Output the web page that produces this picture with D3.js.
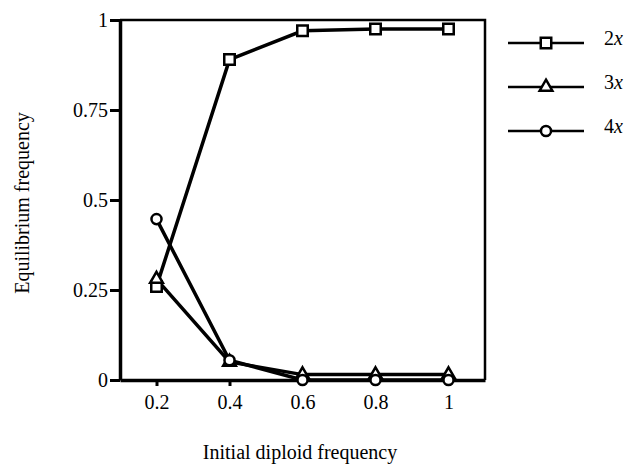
<!DOCTYPE html>
<html>
<head>
<meta charset="utf-8">
<script src="https://d3js.org/d3.v7.min.js"></script>
<style>
  body { margin: 0; background: #fff; }
  text { font-family: "Liberation Serif", "DejaVu Serif", serif; fill: #000; }
</style>
</head>
<body>
<div id="chart"></div>
<script>
var xValues = [0.2, 0.4, 0.6, 0.8, 1];
var diploid = [0.26, 0.89, 0.97, 0.975, 0.975];   // 2x
var triploid = [0.28, 0.05, 0.015, 0.015, 0.015]; // 3x
var tetraploid = [0.447, 0.055, 0, 0, 0];         // 4x
var seriesNames = ["2x", "3x", "4x"];
var yTicks = [0, 0.25, 0.5, 0.75, 1];

var width = 629, height = 468;
var margin = { top: 20, right: 144, bottom: 88, left: 120 };

var svg = d3.select("#chart").append("svg")
  .attr("width", width)
  .attr("height", height);

var x = d3.scaleLinear()
  .domain([0.1, 1.1])
  .range([margin.left, width - margin.right]);

var y = d3.scaleLinear()
  .domain([0, 1])
  .range([height - margin.bottom, margin.top]);

// frame (top + right thinner)
svg.append("path")
  .attr("d", "M" + x(0.1) + "," + y(1) + "H" + x(1.1) + "V" + y(0))
  .attr("fill", "none")
  .attr("stroke", "#000")
  .attr("stroke-width", 2.5);

var xAxis = svg.append("g")
  .attr("transform", "translate(0," + y(0) + ")")
  .call(d3.axisBottom(x).tickValues(xValues).tickSize(6).tickSizeOuter(0)
    .tickFormat(function(d){ return d === 1 ? "1" : d3.format(".1f")(d); }));

var yAxis = svg.append("g")
  .attr("transform", "translate(" + x(0.1) + ",0)")
  .call(d3.axisLeft(y).tickValues(yTicks).tickSize(10).tickSizeOuter(0)
    .tickFormat(function(d){ return d === 0 ? "0" : d === 1 ? "1" : String(d); }));

[xAxis, yAxis].forEach(function(g){
  g.select(".domain").attr("stroke-width", 3.5);
  g.selectAll(".tick line").attr("stroke-width", 3);
  g.selectAll(".tick text").style("font-size", "20px")
    .style("font-family", "'Liberation Serif', serif").attr("fill", "#000");
});
xAxis.selectAll(".tick text").attr("dy", "1.0em");
yAxis.selectAll(".tick text").attr("x", -12);

var line = d3.line()
  .x(function(d, i){ return x(xValues[i]); })
  .y(function(d){ return y(d); });

var allSeries = [diploid, triploid, tetraploid];
var symbols = [d3.symbolSquare, d3.symbolTriangle, d3.symbolCircle];
var symSizes = [110, 70, 80];

allSeries.forEach(function(s){
  svg.append("path")
    .datum(s)
    .attr("d", line)
    .attr("fill", "none")
    .attr("stroke", "#000")
    .attr("stroke-width", 3.5);
});

allSeries.forEach(function(s, k){
  svg.selectAll(".m" + k)
    .data(s)
    .enter().append("path")
    .attr("class", "m" + k)
    .attr("transform", function(d, i){ return "translate(" + x(xValues[i]) + "," + y(d) + ")"; })
    .attr("d", d3.symbol().type(symbols[k]).size(symSizes[k]))
    .attr("fill", "#fff")
    .attr("stroke", "#000")
    .attr("stroke-width", 2.5);
});

// legend
var legend = svg.append("g");
seriesNames.forEach(function(name, k){
  var ly = 43 + k * 44;
  legend.append("line")
    .attr("x1", 508).attr("x2", 584)
    .attr("y1", ly).attr("y2", ly)
    .attr("stroke", "#000")
    .attr("stroke-width", 2.5);
  legend.append("path")
    .attr("transform", "translate(546," + ly + ")")
    .attr("d", d3.symbol().type(symbols[k]).size(symSizes[k]))
    .attr("fill", "#fff")
    .attr("stroke", "#000")
    .attr("stroke-width", 2.5);
  var t = legend.append("text")
    .attr("x", 604).attr("y", ly + 2)
    .style("font-size", "20px");
  t.append("tspan").text(name.charAt(0));
  t.append("tspan").style("font-style", "italic").text(name.slice(1));
});

svg.append("text")
  .attr("text-anchor", "middle")
  .attr("transform", "translate(300,459)")
  .style("font-size", "20px")
  .text("Initial diploid frequency");

svg.append("text")
  .attr("text-anchor", "middle")
  .attr("transform", "translate(29,203)rotate(-90)")
  .style("font-size", "20px")
  .text("Equilibrium frequency");
</script>
</body>
</html>
